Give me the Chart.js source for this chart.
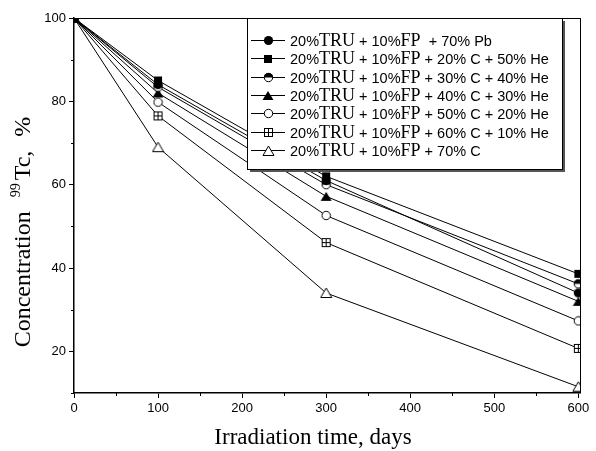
<!DOCTYPE html>
<html>
<head>
<meta charset="utf-8">
<script src="https://cdn.jsdelivr.net/npm/chart.js@4.4.1/dist/chart.umd.min.js"></script>
<style>
  html, body { margin: 0; padding: 0; background: #fff; }
</style>
</head>
<body>
<canvas id="chart" width="596" height="451"></canvas>
<script>
// irradiation time, days
const days = [0, 100, 300, 600];

// 99Tc concentration, %
const pb70    = [100, 84.0, 61.0, 34.0];
const c20he50 = [100, 85.0, 62.0, 38.6];
const c30he40 = [100, 83.4, 60.0, 36.2];
const c40he30 = [100, 82.0, 57.2, 32.0];
const c50he20 = [100, 79.8, 52.6, 27.3];
const c60he10 = [100, 76.5, 46.1, 20.7];
const c70     = [100, 69.0, 34.0, 11.5];

const seriesLabels = [
    '20%TRU + 10%FP  + 70% Pb',
    '20%TRU + 10%FP + 20% C + 50% He',
    '20%TRU + 10%FP + 30% C + 40% He',
    '20%TRU + 10%FP + 40% C + 30% He',
    '20%TRU + 10%FP + 50% C + 20% He',
    '20%TRU + 10%FP + 60% C + 10% He',
    '20%TRU + 10%FP + 70% C'
];

const xTicks = [0, 100, 200, 300, 400, 500, 600];
const xMinor = [50, 150, 250, 350, 450, 550];
const yTicks = [20, 40, 60, 80, 100];
const yMinor = [10, 30, 50, 70, 90];

const SANS = '"Liberation Sans", Arial, sans-serif';
const SERIF = '"Liberation Serif", "Times New Roman", serif';

// marker images
function marker(w, h, draw) {
    const c = document.createElement('canvas');
    c.width = w; c.height = h;
    const g = c.getContext('2d');
    g.lineWidth = 1;
    g.strokeStyle = '#000';
    g.fillStyle = '#000';
    draw(g, w / 2, h / 2);
    return c;
}

const markers = [
    marker(11, 11, (g, cx, cy) => { g.beginPath(); g.arc(cx, cy, 4.6, 0, Math.PI * 2); g.fill(); }),
    marker(10, 10, (g) => { g.fillRect(1, 1, 8, 8); }),
    marker(11, 11, (g, cx, cy) => {
        g.beginPath(); g.arc(cx, cy, 4.2, 0, Math.PI * 2);
        g.fillStyle = '#fff'; g.fill(); g.stroke();
        g.beginPath(); g.arc(cx, cy, 4.6, Math.PI, Math.PI * 2); g.closePath();
        g.fillStyle = '#000'; g.fill();
    }),
    marker(12, 11, (g) => { g.beginPath(); g.moveTo(6, 1); g.lineTo(11.5, 10); g.lineTo(0.5, 10); g.closePath(); g.fill(); }),
    marker(11, 11, (g, cx, cy) => {
        g.beginPath(); g.arc(cx, cy, 4.2, 0, Math.PI * 2);
        g.fillStyle = '#fff'; g.fill(); g.stroke();
    }),
    marker(11, 11, (g) => {
        g.fillStyle = '#fff'; g.fillRect(1.5, 1.5, 8, 8);
        g.strokeRect(1.5, 1.5, 8, 8);
        g.beginPath(); g.moveTo(5.5, 1.5); g.lineTo(5.5, 9.5); g.moveTo(1.5, 5.5); g.lineTo(9.5, 5.5); g.stroke();
    }),
    marker(13, 12, (g) => {
        g.beginPath(); g.moveTo(6.5, 1); g.lineTo(12, 10.5); g.lineTo(1, 10.5); g.closePath();
        g.fillStyle = '#fff'; g.fill(); g.stroke();
    })
];

const values = [pb70, c20he50, c30he40, c40he30, c50he20, c60he10, c70];

const datasets = values.map((v, i) => ({
    label: seriesLabels[i],
    data: days.map((d, k) => ({ x: d, y: v[k] })),
    borderColor: '#000',
    borderWidth: 1,
    pointStyle: markers[i],
    pointRadius: 5,
    pointHoverRadius: 5,
    fill: false,
    tension: 0
}));

// minor ticks, frame, axis titles
const framePlugin = {
    id: 'frame',
    afterDraw(chart) {
        const { ctx, chartArea: a, scales: { x, y } } = chart;
        ctx.save();
        ctx.strokeStyle = '#000';
        ctx.lineWidth = 1;
        ctx.beginPath();
        ctx.moveTo(a.left, a.top + 0.5); ctx.lineTo(a.right + 0.5, a.top + 0.5);
        ctx.moveTo(a.right + 0.5, a.top); ctx.lineTo(a.right + 0.5, a.bottom);
        xMinor.forEach(v => {
            const px = Math.round(x.getPixelForValue(v)) + 0.5;
            ctx.moveTo(px, a.bottom); ctx.lineTo(px, a.bottom + 3);
        });
        yMinor.forEach(v => {
            const py = Math.round(y.getPixelForValue(v)) + 0.5;
            ctx.moveTo(a.left, py); ctx.lineTo(a.left - 3, py);
        });
        ctx.stroke();

        ctx.fillStyle = '#000';
        ctx.textBaseline = 'alphabetic';
        ctx.font = '23px ' + SERIF;
        ctx.textAlign = 'center';
        ctx.fillText('Irradiation time, days', 313, 444);

        // y title with superscript
        ctx.translate(30, 232);
        ctx.rotate(-Math.PI / 2);
        const parts = [
            { t: 'Concentration', f: '24px ' + SERIF, dy: 0, gap: 14 },
            { t: '99', f: '14px ' + SERIF, dy: -10, gap: 3 },
            { t: 'Tc,', f: '24px ' + SERIF, dy: 0, gap: 14 },
            { t: '%', f: '24px ' + SERIF, dy: 0, gap: 0 }
        ];
        let total = 0;
        parts.forEach(p => { ctx.font = p.f; p.w = ctx.measureText(p.t).width; total += p.w + p.gap; });
        let cx = -total / 2;
        ctx.textAlign = 'left';
        parts.forEach(p => { ctx.font = p.f; ctx.fillText(p.t, cx, p.dy); cx += p.w + p.gap; });
        ctx.restore();
    }
};

// legend box with mixed serif / sans text
const legendPlugin = {
    id: 'boxLegend',
    afterDatasetsDraw(chart) {
        const { ctx } = chart;
        const bx = 247, by = 18, bw = 315, bh = 151;
        ctx.save();
        ctx.fillStyle = '#555';
        ctx.fillRect(bx + 3, by + 3, bw, bh);
        ctx.fillStyle = '#fff';
        ctx.fillRect(bx, by, bw, bh);
        ctx.strokeStyle = '#000';
        ctx.lineWidth = 1;
        ctx.strokeRect(bx + 0.5, by + 0.5, bw, bh);

        chart.data.datasets.forEach((ds, i) => {
            const yc = Math.round(40 + i * 18.35);
            ctx.beginPath();
            ctx.moveTo(251, yc + 0.5); ctx.lineTo(285, yc + 0.5);
            ctx.stroke();
            const m = ds.pointStyle;
            ctx.drawImage(m, Math.round(268 - m.width / 2), Math.round(yc - m.height / 2 + 0.5));

            const pieces = ds.label.split(/(TRU|FP)/).filter(s => s.length);
            let tx = 290;
            ctx.fillStyle = '#000';
            ctx.textBaseline = 'alphabetic';
            ctx.textAlign = 'left';
            pieces.forEach(s => {
                const serif = s === 'TRU' || s === 'FP';
                ctx.font = serif ? '18px ' + SERIF : '14.5px ' + SANS;
                ctx.fillText(s, tx, yc + 5.5);
                tx += ctx.measureText(s).width;
            });
        });
        ctx.restore();
    }
};

new Chart(document.getElementById('chart'), {
    type: 'line',
    data: { datasets },
    options: {
        responsive: false,
        devicePixelRatio: 1,
        animation: false,
        layout: { padding: { left: 0, top: 18, right: 16, bottom: 0 } },
        plugins: {
            legend: { display: false },
            tooltip: { enabled: false }
        },
        scales: {
            x: {
                type: 'linear',
                min: 0,
                max: 602,
                afterBuildTicks: (s) => { s.ticks = xTicks.map(v => ({ value: v })); },
                afterFit: (s) => { s.height = 58; },
                ticks: { color: '#000', font: { family: SANS, size: 13 }, padding: 3, maxRotation: 0 },
                grid: { display: true, drawOnChartArea: false, drawTicks: true, tickLength: 5, color: '#000', lineWidth: 1 },
                border: { display: true, color: '#000', width: 1.5 }
            },
            y: {
                type: 'linear',
                min: 10,
                max: 100,
                afterBuildTicks: (s) => { s.ticks = yTicks.map(v => ({ value: v })); },
                afterFit: (s) => { s.width = 74; },
                ticks: { color: '#000', font: { family: SANS, size: 13 }, padding: 3 },
                grid: { display: true, drawOnChartArea: false, drawTicks: true, tickLength: 5, color: '#000', lineWidth: 1 },
                border: { display: true, color: '#000', width: 1.5 }
            }
        }
    },
    plugins: [framePlugin, legendPlugin]
});
</script>
</body>
</html>
